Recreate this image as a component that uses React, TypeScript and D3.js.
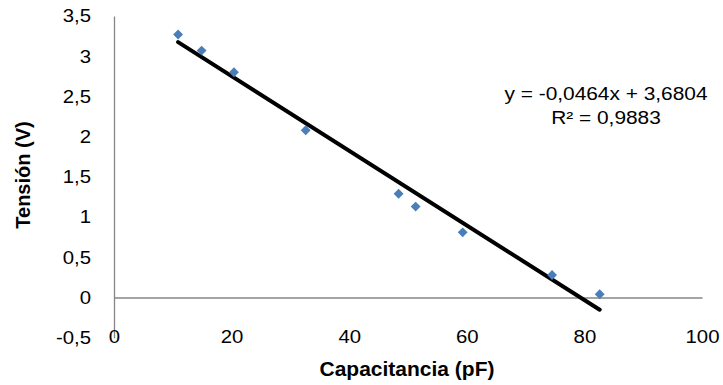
import * as d3 from "d3";
import React, { useEffect, useRef } from "react";

const capacitance = [10.9, 14.9, 20.4, 32.6, 48.4, 51.3, 59.3, 74.5, 82.6];
const voltage = [3.27, 3.07, 2.8, 2.08, 1.29, 1.13, 0.81, 0.28, 0.04];

const xTicks = [0, 20, 40, 60, 80, 100];
const yTicks = [-0.5, 0, 0.5, 1, 1.5, 2, 2.5, 3, 3.5];

// trendline shown in the chart
const slope = -0.0464;
const intercept = 3.6804;
const r2 = 0.9883;

export default function App() {
  const svgRef = useRef(null);
  const width = 723;
  const height = 385;

  useEffect(() => {
    document.body.style.margin = "0";
    const svgEl = d3.select(svgRef.current);
    svgEl.selectAll("*").remove();

    const font = "Arial, 'Liberation Sans', sans-serif";
    const fmt = (v) => String(v).replace(".", ",");
    const stretch = 1.1; // the source image is a bit wider than tall

    const xScale = d3.scaleLinear().domain([0, 100]).range([114, 702]);
    const yScale = d3.scaleLinear().domain([-0.5, 3.5]).range([337.7, 16]);

    // Y axis
    const yAxis = svgEl
      .append("g")
      .attr("transform", "translate(" + xScale(0) + ",0)")
      .call(d3.axisLeft(yScale).tickValues(yTicks).tickSize(0).tickSizeOuter(0).tickFormat(fmt));
    yAxis.select(".domain").attr("stroke", "#868686").attr("stroke-width", 1.3);
    yAxis
      .selectAll("text")
      .attr("x", -23 / stretch)
      .attr("transform", "scale(" + stretch + ",1)")
      .attr("font-family", font)
      .attr("font-size", "18.5px")
      .attr("fill", "#000");

    // X axis line at y = 0
    const xLine = svgEl
      .append("g")
      .attr("transform", "translate(0," + yScale(0) + ")")
      .call(d3.axisBottom(xScale).tickValues([]).tickSizeOuter(0));
    xLine.select(".domain").attr("stroke", "#868686").attr("stroke-width", 1.3);

    // X tick labels at the bottom of the plot
    const xAxis = svgEl
      .append("g")
      .attr("transform", "translate(0," + yScale(-0.5) + ")")
      .call(d3.axisBottom(xScale).tickValues(xTicks).tickSize(0).tickPadding(0));
    xAxis.select(".domain").remove();
    xAxis
      .selectAll("text")
      .attr("y", -1)
      .attr("dy", "0.35em")
      .attr("transform", "scale(" + stretch + ",1)")
      .attr("font-family", font)
      .attr("font-size", "18.5px")
      .attr("fill", "#000");

    // trendline
    const xMin = d3.min(capacitance);
    const xMax = d3.max(capacitance);
    svgEl
      .append("path")
      .datum([xMin, xMax])
      .attr("fill", "none")
      .attr("stroke", "#000")
      .attr("stroke-width", 4)
      .attr("stroke-linecap", "round")
      .attr(
        "d",
        d3
          .line()
          .x((d) => xScale(d))
          .y((d) => yScale(slope * d + intercept))
      );

    // markers
    const diamond = d3.symbol().type(d3.symbolDiamond2).size(62);
    svgEl
      .append("g")
      .selectAll("path")
      .data(capacitance)
      .join("path")
      .attr("d", diamond)
      .attr("fill", "#4A7EBB")
      .attr("transform", (d, i) => "translate(" + xScale(d) + "," + yScale(voltage[i]) + ")");

    // equation label
    const eq = svgEl
      .append("text")
      .attr("transform", "translate(606,0) scale(1.16,1)")
      .attr("font-family", font)
      .attr("font-size", "18px")
      .attr("text-anchor", "middle")
      .attr("fill", "#000");
    eq.append("tspan")
      .attr("x", 0)
      .attr("y", 100)
      .text("y = " + fmt(slope) + "x  + " + fmt(intercept));
    eq.append("tspan")
      .attr("x", 0)
      .attr("y", 124)
      .text("R² = " + fmt(r2));

    // axis titles
    svgEl
      .append("text")
      .attr("transform", "translate(407,369) scale(1.05,1)")
      .attr("dy", "0.35em")
      .attr("text-anchor", "middle")
      .attr("font-family", font)
      .attr("font-size", "20px")
      .attr("font-weight", "bold")
      .text("Capacitancia (pF)");

    svgEl
      .append("text")
      .attr("transform", "translate(23,175) rotate(-90)")
      .attr("dy", "0.35em")
      .attr("text-anchor", "middle")
      .attr("font-family", font)
      .attr("font-size", "20px")
      .attr("font-weight", "bold")
      .text("Tensión (V)");
  });

  return <svg width={width} height={height} ref={svgRef} style={{ display: "block" }}></svg>;
}
